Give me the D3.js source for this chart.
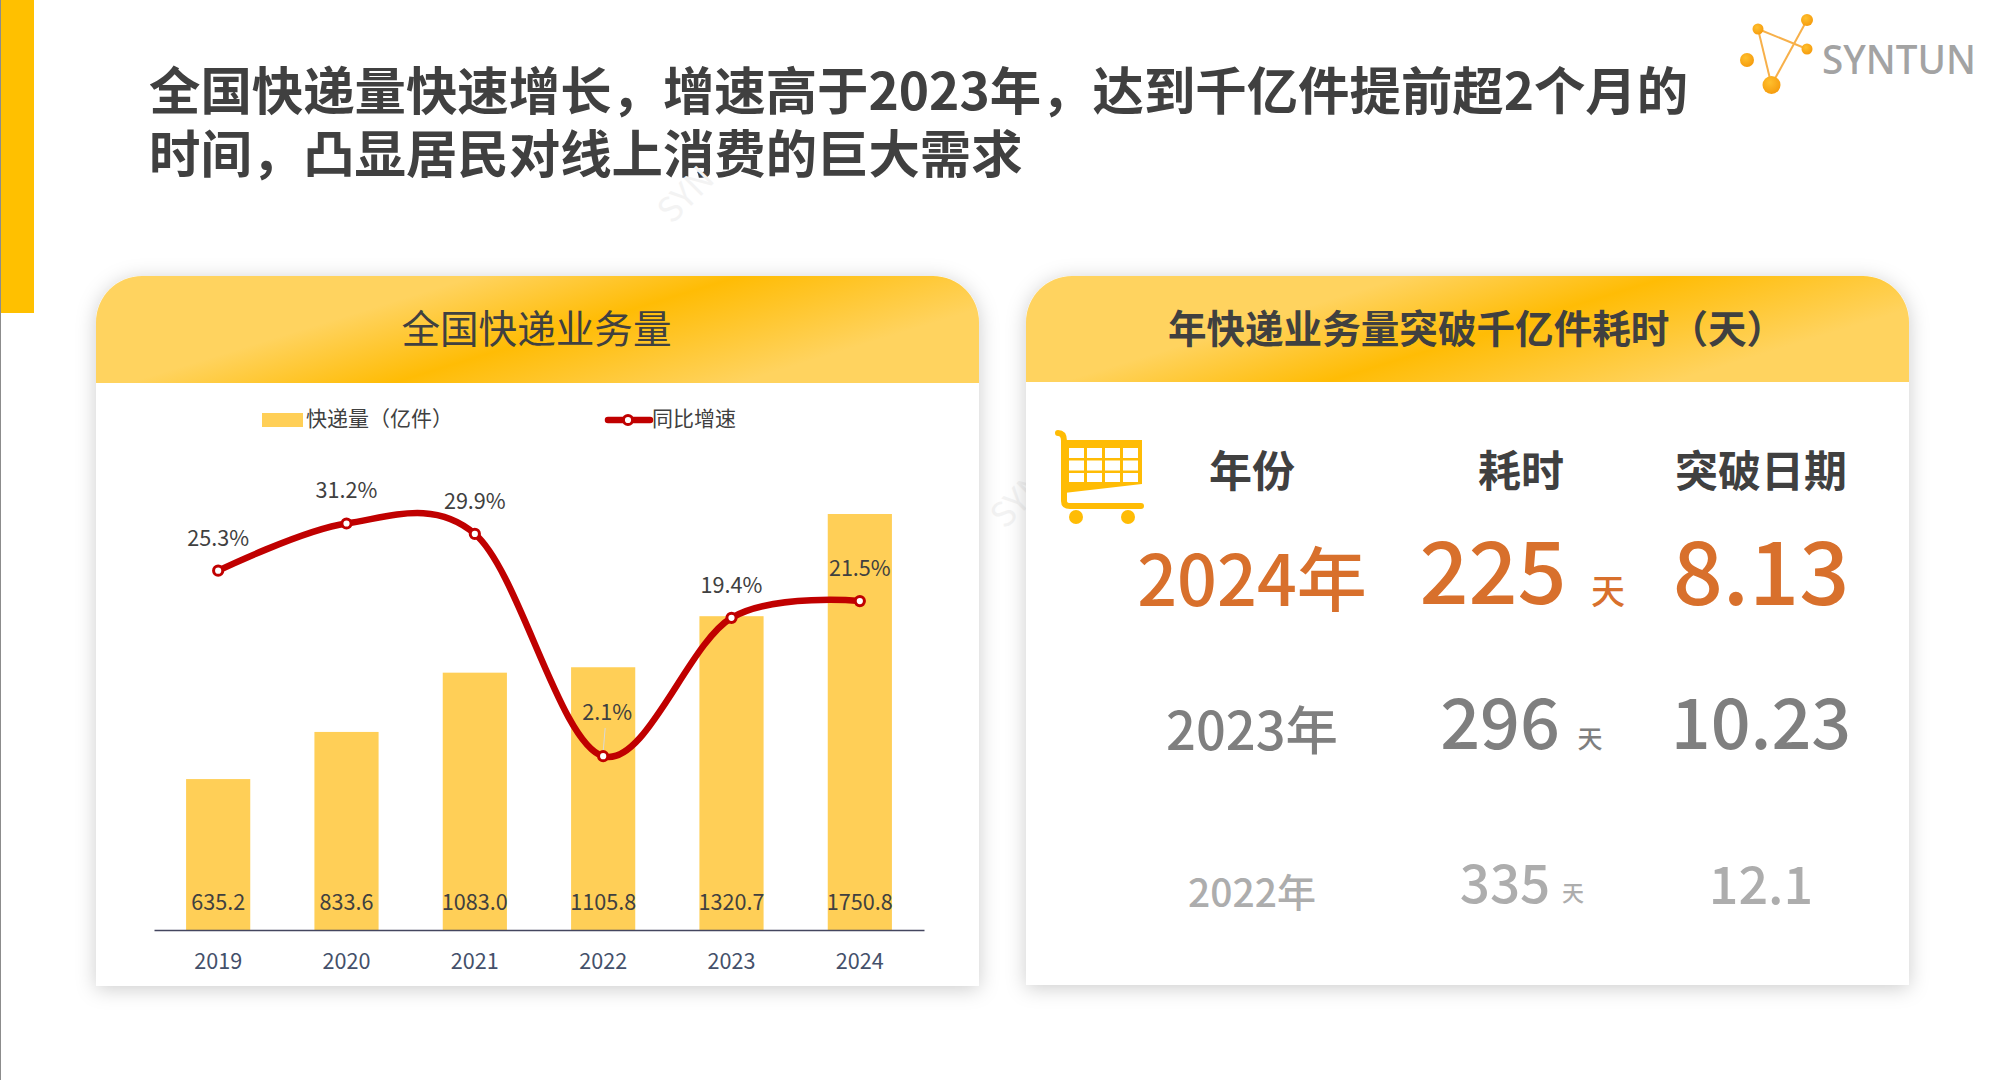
<!DOCTYPE html>
<html><head><meta charset="utf-8">
<script src="https://cdn.jsdelivr.net/npm/d3@7"></script>
<style>html,body{margin:0;padding:0;background:#fff;overflow:hidden}text{font-family:"Noto Sans CJK SC","Noto Sans",sans-serif}</style>
</head><body><svg id="c" width="1998" height="1080"></svg>
<script>
const titleLines = ["全国快递量快速增长，增速高于2023年，达到千亿件提前超2个月的","时间，凸显居民对线上消费的巨大需求"];
const years = ["2019","2020","2021","2022","2023","2024"];
const volume = [635.2,833.6,1083.0,1105.8,1320.7,1750.8];
const growth = [25.3,31.2,29.9,2.1,19.4,21.5];
const leftTitle = "全国快递业务量";
const rightTitle = "年快递业务量突破千亿件耗时（天）";
const legendLabels = ["快递量（亿件）","同比增速"];
const tableHeaders = ["年份","耗时","突破日期"];
const tableYears = ["2024年","2023年","2022年"];
const tableDays = ["225","296","335"];
const tableDates = ["8.13","10.23","12.1"];
const dayUnit = "天";

const svg = d3.select("#c");
const defs = svg.append("defs");
const sh = defs.append("filter").attr("id","sh").attr("x","-6%").attr("y","-6%").attr("width","112%").attr("height","112%");
sh.append("feDropShadow").attr("dx",0).attr("dy",3).attr("stdDeviation",10).attr("flood-color","#000").attr("flood-opacity",.2);
const lg = defs.append("radialGradient").attr("id","dot").attr("cx",.4).attr("cy",.35).attr("r",.7);
lg.append("stop").attr("offset",0).attr("stop-color","#ffc02e");
lg.append("stop").attr("offset",1).attr("stop-color","#f59a0c");

// page furniture
svg.append("rect").attr("x",0).attr("y",0).attr("width",1).attr("height",1080).attr("fill","#8c8c8c");
svg.append("rect").attr("x",1).attr("y",0).attr("width",33).attr("height",313).attr("fill","#ffc000");
svg.append("g").selectAll("text").data(titleLines).join("text")
  .attr("x",149).attr("y",(d,i)=>110+i*63).attr("font-size",51.4).attr("font-weight",700).attr("fill","#404040").text(d=>d);

// watermark
[[672,225],[1005,530]].forEach(p=>svg.append("text").attr("transform",`translate(${p[0]},${p[1]}) rotate(-45)`)
  .attr("font-size",34).attr("fill","#f3f3f3").text("SYN"));

// logo
const logo = svg.append("g");
[[[1758,29],[1807,49]],[[1758,29],[1771.5,85]],[[1807,20],[1771.5,85]]].forEach(l=>
  logo.append("line").attr("x1",l[0][0]).attr("y1",l[0][1]).attr("x2",l[1][0]).attr("y2",l[1][1]).attr("stroke","#f7b04a").attr("stroke-width",2));
[[1747,60,7],[1758,29,5.5],[1807,20,6],[1807,49,5.5],[1771.5,85,9]].forEach(c=>
  logo.append("circle").attr("cx",c[0]).attr("cy",c[1]).attr("r",c[2]).attr("fill","url(#dot)"));
logo.append("text").attr("x",1822).attr("y",74).attr("font-size",39).attr("font-weight",500).attr("fill","#a3a3a3")
  .style("font-family","'Noto Sans',sans-serif").attr("textLength",154).attr("lengthAdjust","spacingAndGlyphs").text("SYNTUN");

function panel(x,w,y,h,headH,title,bold,gid,size,dx){
  const g = svg.append("g");
  const r = 46;
  const shape = d3.path();
  shape.moveTo(x,y+h); shape.lineTo(x,y+r); shape.arcTo(x,y,x+r,y,r); shape.lineTo(x+w-r,y); shape.arcTo(x+w,y,x+w,y+r,r); shape.lineTo(x+w,y+h); shape.closePath();
  g.append("path").attr("d",shape.toString()).attr("fill","#fff").attr("filter","url(#sh)");
  const mx = x+469, my = y+54;
  const gr = defs.append("linearGradient").attr("id",gid).attr("gradientUnits","userSpaceOnUse")
    .attr("x1",mx-44).attr("y1",my-143).attr("x2",mx+44).attr("y2",my+143);
  gr.append("stop").attr("offset",.24).attr("stop-color","#ffd35f");
  gr.append("stop").attr("offset",.5).attr("stop-color","#ffbc05");
  gr.append("stop").attr("offset",.84).attr("stop-color","#ffd35f");
  const p = d3.path();
  p.moveTo(x,y+headH); p.lineTo(x,y+r); p.arcTo(x,y,x+r,y,r); p.lineTo(x+w-r,y); p.arcTo(x+w,y,x+w,y+r,r); p.lineTo(x+w,y+headH); p.closePath();
  g.append("path").attr("d",p.toString()).attr("fill",`url(#${gid})`);
  g.append("text").attr("x",x+w/2+dx).attr("y",y+headH/2+3.5).attr("text-anchor","middle").attr("dominant-baseline","middle")
    .attr("font-size",size).attr("font-weight",bold).attr("fill","#404040").text(title);
}
panel(96,883,276,710,107,leftTitle,400,"h1",38.6,-1);
panel(1026,883,276,709,106,rightTitle,700,"h2",38.6,9);

// chart
const x = d3.scaleBand().domain(years).range([154,924]).paddingInner(.5).paddingOuter(.25);
const yBar = d3.scaleLinear().domain([0,d3.max(volume)]).range([930,514]);
const yLine = d3.scaleLinear().domain([0,d3.max(growth)]).range([773,523.5]);
const cx = d=>x(d)+x.bandwidth()/2;
svg.append("g").selectAll("rect").data(years).join("rect")
  .attr("x",d=>x(d)).attr("width",x.bandwidth()).attr("y",(d,i)=>yBar(volume[i])).attr("height",(d,i)=>930-yBar(volume[i])).attr("fill","#ffcf57");
const ax = svg.append("g").attr("transform","translate(0,930)").call(d3.axisBottom(x).tickSize(0).tickPadding(24));
ax.select(".domain").attr("stroke","#44465f").attr("stroke-width",1.6);
ax.selectAll("text").attr("font-size",21.6).attr("fill","#44506a").style("font-family",'"Noto Sans CJK SC"');
svg.append("g").selectAll("text").data(years).join("text").attr("x",cx).attr("y",904.5).attr("text-anchor","middle").attr("dominant-baseline","middle")
  .attr("font-size",21.6).attr("fill","#404040").text((d,i)=>volume[i].toFixed(1));
const line = d3.line().x(d=>cx(d)).y((d,i)=>yLine(growth[i])).curve(d3.curveCatmullRom.alpha(0.1));
svg.append("path").attr("d",line(years)).attr("fill","none").attr("stroke","#c00000").attr("stroke-width",6.5).attr("stroke-linecap","round");
svg.append("line").attr("x1",cx("2022")+2).attr("x2",cx("2022")).attr("y1",728).attr("y2",752).attr("stroke","#d9d9d9");
svg.append("g").selectAll("circle").data(years).join("circle").attr("cx",cx).attr("cy",(d,i)=>yLine(growth[i])).attr("r",4.6)
  .attr("fill","#fff").attr("stroke","#c00000").attr("stroke-width",3);
const labelOffset = 31;
svg.append("g").selectAll("text").data(years).join("text")
  .attr("x",d=>cx(d)+(d==="2022"?4:0)).attr("y",(d,i)=>yLine(growth[i])-(d==="2022"?42:labelOffset)).attr("text-anchor","middle").attr("dominant-baseline","middle")
  .attr("font-size",21.6).attr("fill","#404040").text((d,i)=>growth[i].toFixed(1)+"%");

// legend
svg.append("rect").attr("x",262).attr("y",413).attr("width",41).attr("height",14).attr("fill","#ffcf57");
svg.append("text").attr("x",306).attr("y",420.5).attr("dominant-baseline","middle").attr("font-size",21).attr("fill","#404040").text(legendLabels[0]);
svg.append("line").attr("x1",608).attr("x2",650).attr("y1",420).attr("y2",420).attr("stroke","#c00000").attr("stroke-width",6.5).attr("stroke-linecap","round");
svg.append("circle").attr("cx",628).attr("cy",420).attr("r",4.6).attr("fill","#fff").attr("stroke","#c00000").attr("stroke-width",3);
svg.append("text").attr("x",652).attr("y",420.5).attr("dominant-baseline","middle").attr("font-size",21).attr("fill","#404040").text(legendLabels[1]);

// cart icon
const cart = svg.append("g");
cart.append("path").attr("d","M1058,433 Q1064,433 1064,441 L1064,501 Q1064,506 1070,506 L1141,506").attr("fill","none").attr("stroke","#ffbc05").attr("stroke-width",6).attr("stroke-linecap","round");
cart.append("path").attr("d","M1064,440 H1142 V484 L1064,493 Z").attr("fill","#ffbc05");
[448,460.5,473].forEach(ry=>[1069,1087,1105,1123].forEach(rx=>
  cart.append("rect").attr("x",rx).attr("y",ry).attr("width",15).attr("height",ry===473?9:10).attr("fill","#fff")));
[1076,1128].forEach(v=>cart.append("circle").attr("cx",v).attr("cy",517).attr("r",7).attr("fill","#ffbc05"));

// table
const colX = [1252,1521,1761];
const rowCol = ["#d8702c","#7f7f7f","#adadad"];
const hdr = svg.append("g").attr("font-size",43).attr("font-weight",700).attr("fill","#404040");
tableHeaders.forEach((t,i)=>hdr.append("text").attr("x",colX[i]).attr("y",475).attr("text-anchor","middle").attr("dominant-baseline","middle").text(t));
const layouts = [
 {yr:[70,587],day:[86,581,1493],unit:[34,1608,595],date:[88,581]},
 {yr:[52.4,736],day:[70,730,1500],unit:[25,1590,741],date:[70,730]},
 {yr:[39,896],day:[53,889,1505],unit:[22,1573,895],date:[52,890]}
];
tableYears.forEach((t,i)=>{
  const L = layouts[i], fw = 500;
  const g = svg.append("g").attr("fill",rowCol[i]).attr("font-weight",fw);
  g.append("text").attr("x",colX[0]).attr("y",L.yr[1]).attr("text-anchor","middle").attr("dominant-baseline","middle").attr("font-size",L.yr[0]).text(t);
  g.append("text").attr("x",L.day[2]).attr("y",L.day[1]).attr("text-anchor","middle").attr("dominant-baseline","middle").attr("font-size",L.day[0]).text(tableDays[i]);
  g.append("text").attr("x",L.unit[1]).attr("y",L.unit[2]).attr("text-anchor","middle").attr("dominant-baseline","middle").attr("font-size",L.unit[0]).text(dayUnit);
  g.append("text").attr("x",colX[2]).attr("y",L.date[1]).attr("text-anchor","middle").attr("dominant-baseline","middle").attr("font-size",L.date[0]).text(tableDates[i]);
});
</script></body></html>
